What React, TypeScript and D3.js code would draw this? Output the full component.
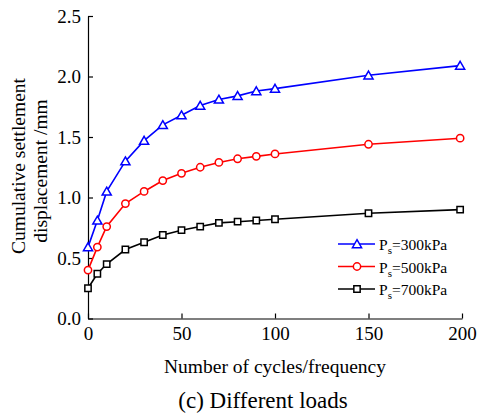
import React, { useRef, useEffect } from "react";
import * as d3 from "d3";

// cycles (x) and displacement (mm) for each load
const cycles = [0, 5, 10, 20, 30, 40, 50, 60, 70, 80, 90, 100, 150, 199];
const load300 = [0.59, 0.81, 1.05, 1.3, 1.47, 1.6, 1.68, 1.76, 1.81, 1.84, 1.88, 1.9, 2.01, 2.09];
const load500 = [0.4, 0.59, 0.76, 0.95, 1.05, 1.14, 1.2, 1.25, 1.29, 1.32, 1.34, 1.36, 1.44, 1.49];
const load700 = [0.25, 0.37, 0.45, 0.57, 0.63, 0.69, 0.73, 0.76, 0.79, 0.8, 0.81, 0.82, 0.87, 0.9];
const xTicks = [0, 50, 100, 150, 200];
const yTicks = [0, 0.5, 1.0, 1.5, 2.0, 2.5];

const seriesList = [
  { name: "300kPa", values: load300, color: "#0000ff", shape: "triangle" },
  { name: "500kPa", values: load500, color: "#ff0000", shape: "circle" },
  { name: "700kPa", values: load700, color: "#000000", shape: "square" },
];

const FONT = "'Liberation Serif', 'Times New Roman', serif";

const App = () => {
  const svgRef = useRef<SVGSVGElement>(null);

  useEffect(() => {
    const width = 479;
    const height = 417;
    const svg = d3.select(svgRef.current).attr("width", width).attr("height", height);
    svg.selectAll("*").remove();

    const x = d3.scaleLinear().domain([0, 200]).range([88, 462]);
    const y = d3.scaleLinear().domain([0, 2.5]).range([318.5, 16]);

    const symbolFor = (shape: string) => {
      if (shape === "triangle") return d3.symbol(d3.symbolTriangle, 36)();
      if (shape === "circle") return d3.symbol(d3.symbolCircle, 42)();
      return d3.symbol(d3.symbolSquare, 40)();
    };

    // axes, ticks pointing inward
    const xAxis = svg
      .append("g")
      .attr("transform", `translate(0,${y(0)})`)
      .call(d3.axisBottom(x).tickValues(xTicks).tickSizeInner(-5).tickSizeOuter(0).tickPadding(8).tickFormat(d3.format("d")));
    const yAxis = svg
      .append("g")
      .attr("transform", `translate(${x(0)},0)`)
      .call(d3.axisLeft(y).tickValues(yTicks).tickSizeInner(-5).tickSizeOuter(0).tickPadding(7).tickFormat(d3.format(".1f")));
    [xAxis, yAxis].forEach((g) => {
      g.selectAll("path,line").attr("stroke", "#000").attr("stroke-width", 1.2);
      g.selectAll("text").attr("font-family", FONT).attr("font-size", 19).attr("fill", "#000");
    });

    // lines and markers
    const line = d3.line<number>().x((_, i) => x(cycles[i])).y((d) => y(d));
    seriesList.forEach((s) => {
      svg.append("path").datum(s.values).attr("fill", "none").attr("stroke", s.color).attr("stroke-width", 1.6).attr("d", line);
      svg
        .append("g")
        .selectAll("path")
        .data(s.values)
        .join("path")
        .attr("d", symbolFor(s.shape))
        .attr("transform", (d, i) => `translate(${x(cycles[i])},${y(d) + (s.shape === "triangle" ? 1 : 0)})`)
        .attr("fill", "#fff")
        .attr("stroke", s.color)
        .attr("stroke-width", 1.5);
    });

    // legend
    const legend = svg.append("g").attr("font-family", FONT).attr("font-size", 15.5);
    seriesList.forEach((s, i) => {
      const ly = 244 + i * 22.5;
      legend.append("line").attr("x1", 338).attr("x2", 375).attr("y1", ly).attr("y2", ly).attr("stroke", s.color).attr("stroke-width", 1.6);
      legend
        .append("path")
        .attr("d", symbolFor(s.shape))
        .attr("transform", `translate(357,${ly + (s.shape === "triangle" ? 1 : 0)})`)
        .attr("fill", "#fff")
        .attr("stroke", s.color)
        .attr("stroke-width", 1.5);
      const t = legend.append("text").attr("x", 379).attr("y", ly + 6).attr("fill", "#000");
      t.append("tspan").text("P");
      t.append("tspan").attr("font-size", 11).attr("dy", 4).text("s");
      t.append("tspan").attr("dy", -4).text("=" + s.name);
    });

    // axis titles
    svg
      .append("text")
      .attr("x", 275)
      .attr("y", 373)
      .attr("text-anchor", "middle")
      .attr("font-family", FONT)
      .attr("font-size", 19.5)
      .text("Number of cycles/frequency");
    const yTitle = svg
      .append("text")
      .attr("transform", "rotate(-90)")
      .attr("text-anchor", "middle")
      .attr("font-family", FONT)
      .attr("font-size", 19.5);
    yTitle.append("tspan").attr("x", -166).attr("y", 25).text("Cumulative settlement");
    yTitle.append("tspan").attr("x", -171).attr("y", 47).text("displacement /mm");

    // caption
    svg
      .append("text")
      .attr("x", 263)
      .attr("y", 408)
      .attr("text-anchor", "middle")
      .attr("font-family", FONT)
      .attr("font-size", 23)
      .text("(c) Different loads");
  }, []);

  return <svg ref={svgRef} style={{ position: "absolute", left: 0, top: 0 }} />;
};

export default App;
